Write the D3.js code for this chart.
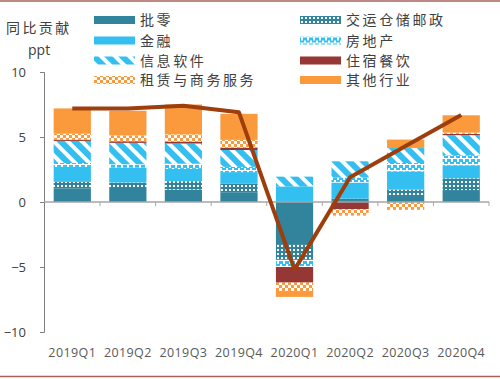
<!DOCTYPE html>
<html>
<head>
<meta charset="utf-8">
<script src="https://cdn.jsdelivr.net/npm/d3@7"></script>
<style>
  body { margin: 0; background: #fff; }
  text { font-family: "Open Sans", "Noto Sans CJK SC", sans-serif; }
  .cjk { font-family: "Noto Sans CJK SC", sans-serif; }
</style>
</head>
<body>
<div id="chart"></div>
<script>
// data (ppt)
var quarters = ["2019Q1", "2019Q2", "2019Q3", "2019Q4", "2020Q1", "2020Q2", "2020Q3", "2020Q4"];
var sectors = ["批零", "交运仓储邮政", "金融", "房地产", "信息软件", "住宿餐饮", "租赁与商务服务", "其他行业"];
var retail    = [1.05, 1.0, 0.95, 0.75, -3.3, 0.15, 0.55, 0.92];
var transport = [0.5, 0.5, 0.65, 0.65, -1.15, 0.1, 0.4, 0.9];
var finance   = [1.15, 1.15, 0.95, 0.9, 1.2, 1.25, 1.4, 1.0];
var realty    = [0.3, 0.25, 0.4, 0.4, -0.55, 0.38, 0.65, 0.77];
var infoSoft  = [1.7, 1.65, 1.55, 1.3, 0.75, 1.25, 1.15, 1.55];
var hotel     = [0.1, 0.12, 0.15, 0.18, -1.2, -0.55, 0, 0.1];
var leasing   = [0.45, 0.45, 0.55, 0.6, -0.65, -0.5, -0.6, 0.1];
var others    = [1.95, 1.9, 2.3, 2.0, -0.45, 0, 0.65, 1.33];
var total     = [7.2, 7.2, 7.4, 6.9, -5.2, 1.9, 4.3, 6.7];
var yTicks = [10, 5, 0, -5, -10];

var seriesValues = [retail, transport, finance, realty, infoSoft, hotel, leasing, others];
var fills = ["#31849B", "url(#pTransport)", "#33BFF0", "url(#pRealty)",
             "url(#pInfo)", "#953735", "url(#pLeasing)", "#FA9A3C"];

var svgWidth = 500;
var svgHeight = 379;

var svg = d3.select("#chart")
  .append("svg")
  .attr("width", svgWidth)
  .attr("height", svgHeight);

// patterns
var defs = svg.append("defs");

var p1 = defs.append("pattern").attr("id", "pTransport")
  .attr("patternUnits", "userSpaceOnUse").attr("width", 4).attr("height", 4);
p1.append("rect").attr("width", 4).attr("height", 4).attr("fill", "#31849B");
p1.append("rect").attr("x", 1).attr("y", 1).attr("width", 2).attr("height", 2).attr("fill", "#fff");

var p2 = defs.append("pattern").attr("id", "pRealty")
  .attr("patternUnits", "userSpaceOnUse").attr("width", 6).attr("height", 6);
p2.append("rect").attr("width", 6).attr("height", 6).attr("fill", "#fff");
p2.append("rect").attr("x", 0).attr("y", 0).attr("width", 4).attr("height", 2).attr("fill", "#33BFF0");
p2.append("rect").attr("x", 3).attr("y", 3).attr("width", 3).attr("height", 3).attr("fill", "#33BFF0");
p2.append("rect").attr("x", 0).attr("y", 3).attr("width", 1).attr("height", 3).attr("fill", "#33BFF0");

var p3 = defs.append("pattern").attr("id", "pInfo")
  .attr("patternUnits", "userSpaceOnUse").attr("width", 10).attr("height", 10)
  .attr("patternTransform", "rotate(-45)");
p3.append("rect").attr("width", 10).attr("height", 10).attr("fill", "#fff");
p3.append("rect").attr("width", 6).attr("height", 10).attr("fill", "#33BFF0");

var p4 = defs.append("pattern").attr("id", "pLeasing")
  .attr("patternUnits", "userSpaceOnUse").attr("width", 6).attr("height", 6);
p4.append("rect").attr("width", 6).attr("height", 6).attr("fill", "#fff");
p4.append("rect").attr("x", 0).attr("y", 0).attr("width", 3).attr("height", 3).attr("fill", "#FA9A3C");
p4.append("rect").attr("x", 3).attr("y", 3).attr("width", 3).attr("height", 3).attr("fill", "#FA9A3C");

// frame lines top and bottom
svg.append("line").attr("x1", 0).attr("x2", svgWidth).attr("y1", 1).attr("y2", 1)
  .attr("stroke", "#A8625C").attr("stroke-width", 1.5);
svg.append("line").attr("x1", 0).attr("x2", svgWidth).attr("y1", 376.5).attr("y2", 376.5)
  .attr("stroke", "#A8625C").attr("stroke-width", 1.5);

var x = d3.scaleBand().domain(quarters).range([44.5, 489]).paddingInner(0.33).paddingOuter(0.165);
var y = d3.scaleLinear().domain([-10, 10]).range([332, 72]);

// stack data
var table = quarters.map(function(q, i) {
  var row = { quarter: q };
  sectors.forEach(function(s, j) { row[s] = seriesValues[j][i]; });
  return row;
});
var stacked = d3.stack().keys(sectors).offset(d3.stackOffsetDiverging)(table);

svg.append("g").selectAll("g")
  .data(stacked)
  .enter()
  .append("g")
  .attr("fill", function(d, i) { return fills[i]; })
  .selectAll("rect")
  .data(function(d) { return d; })
  .enter()
  .append("rect")
  .attr("x", function(d) { return x(d.data.quarter); })
  .attr("width", x.bandwidth())
  .attr("y", function(d) { return y(Math.max(d[0], d[1])); })
  .attr("height", function(d) { return Math.abs(y(d[0]) - y(d[1])); });

// y axis
var yAxis = d3.axisLeft(y).tickValues(yTicks).tickSize(4).tickPadding(14).tickFormat(d3.format("d"));
var gy = svg.append("g").attr("transform", "translate(44,0)").call(yAxis);
gy.select(".domain").attr("stroke", "#7F7F7F").attr("d", "M-4,72.5H0.5V332.5H-4");
gy.selectAll(".tick line").attr("stroke", "#7F7F7F");
gy.selectAll(".tick text").attr("font-size", 13).attr("fill", "#404040");

// x axis at zero with boundary ticks
var gx = svg.append("g").attr("transform", "translate(0," + y(0) + ")");
gx.append("line").attr("x1", 44).attr("x2", 489).attr("y1", 0).attr("y2", 0)
  .attr("stroke", "#A6A6A6").attr("stroke-width", 1.5);
gx.selectAll(".bt")
  .data(quarters)
  .enter()
  .append("line")
  .attr("x1", function(d) { return x(d) - x.step() * x.paddingInner() / 2 + x.step(); })
  .attr("x2", function(d) { return x(d) - x.step() * x.paddingInner() / 2 + x.step(); })
  .attr("y1", 0).attr("y2", 4)
  .attr("stroke", "#A6A6A6");

svg.append("g").selectAll("text")
  .data(quarters)
  .enter()
  .append("text")
  .attr("x", function(d) { return x(d) + x.bandwidth() / 2; })
  .attr("y", 357)
  .attr("text-anchor", "middle")
  .attr("font-size", 12.5)
  .attr("letter-spacing", 0.4)
  .attr("fill", "#595959")
  .text(function(d) { return d; });

// total line
var line = d3.line()
  .x(function(d, i) { return x(quarters[i]) + x.bandwidth() / 2; })
  .y(function(d) { return y(d); });

svg.append("path")
  .datum(total)
  .attr("d", line)
  .attr("fill", "none")
  .attr("stroke", "#9E3E0C")
  .attr("stroke-width", 4)
  .attr("stroke-linejoin", "round");

// unit label
svg.append("text").attr("class", "cjk").attr("x", 6).attr("y", 33)
  .attr("font-size", 14).attr("letter-spacing", 2.4).attr("fill", "#404040").text("同比贡献");
svg.append("text").attr("x", 28).attr("y", 55)
  .attr("font-size", 14).attr("fill", "#404040").text("ppt");

// legend: 批零, 交运 / 金融, 房地产 / 信息, 住宿 / 租赁, 其他
var legendCol = [[94, 20], [300, 20], [94, 40.5], [300, 40.5], [94, 60.5], [300, 60.5], [94, 80], [300, 80]];
var legend = svg.append("g").selectAll("g")
  .data(sectors)
  .enter()
  .append("g")
  .attr("transform", function(d, i) { return "translate(" + legendCol[i][0] + "," + legendCol[i][1] + ")"; });

legend.append("rect")
  .attr("x", 0).attr("y", -4).attr("width", 41).attr("height", 8)
  .attr("fill", function(d, i) { return fills[i]; });

legend.append("text")
  .attr("class", "cjk")
  .attr("x", 46).attr("y", 5)
  .attr("font-size", 14)
  .attr("letter-spacing", 2.6)
  .attr("fill", "#404040")
  .text(function(d) { return d; });
</script>
</body>
</html>
